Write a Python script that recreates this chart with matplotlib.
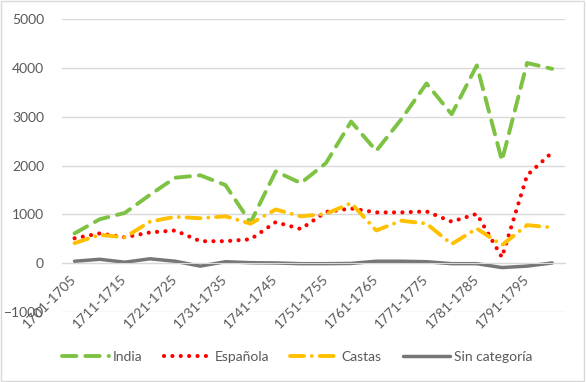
import numpy as np
import matplotlib
matplotlib.use("Agg")
import matplotlib.pyplot as plt
from matplotlib.patches import Rectangle

categories = [f"{1701 + 5*i}-{1705 + 5*i}" for i in range(20)]
india = [610, 900, 1030, 1400, 1750, 1800, 1600, 830, 1880, 1640,
         2050, 2900, 2300, 2950, 3680, 3050, 4050, 2100, 4100, 3980]
espanola = [510, 610, 530, 630, 670, 450, 450, 490, 840, 700,
            1050, 1120, 1040, 1040, 1060, 850, 1010, 120, 1800, 2270]
castas = [410, 580, 530, 850, 950, 920, 960, 810, 1100, 960,
          1010, 1230, 670, 870, 810, 390, 710, 370, 780, 730]
sin_cat = [40, 80, 20, 90, 40, -60, 30, 10, 5, -10,
           -10, -5, 40, 40, 30, -10, -10, -90, -60, 5]

series = [
    ("India", india, "#7DC242"),
    ("Española", espanola, "#FF0000"),
    ("Castas", castas, "#FFC000"),
    ("Sin categoría", sin_cat, "#767676"),
]

plt.rcParams['font.family'] = ['Lato', 'DejaVu Sans']
fig = plt.figure(figsize=(5.86, 3.82), dpi=100)
fig.patches.append(Rectangle((0.002, 0.003), 0.995, 0.994, transform=fig.transFigure,
                             fill=False, edgecolor="#D9D9D9", linewidth=1.0))
ax = fig.add_axes([0.1058, 0.1832, 0.858, 0.767])

x = np.arange(len(categories))
styles = {
    "India": dict(lw=2.8, dashes=(3.7, 2.3), dash_capstyle='round', solid_joinstyle='round'),
    "Española": dict(lw=3.0, dashes=(0.01, 2.0), dash_capstyle='round'),
    "Castas": dict(lw=2.8, dashes=(3.6, 2.0, 0.01, 2.0), dash_capstyle='round'),
    "Sin categoría": dict(lw=2.5, solid_capstyle='round', solid_joinstyle='round'),
}
handles = []
for name, vals, col in series:
    ln, = ax.plot(x, vals, color=col, label=name, **styles[name])
    handles.append(ln)

ax.set_xlim(-0.5, 19.5)
ax.set_ylim(-1000, 5000)
ax.set_yticks(range(-1000, 5001, 1000))
ax.yaxis.grid(True, color="#D9D9D9", linewidth=1.0)
ax.set_axisbelow(True)
for s in ["top", "right", "left"]:
    ax.spines[s].set_visible(False)
ax.spines["bottom"].set_position(("data", 0))
ax.spines["bottom"].set_color("#D9D9D9")
ax.set_xticks(x[::2])
ax.set_xticklabels(categories[::2], rotation=45, ha='right', va='center',
                   rotation_mode='anchor')
ax.tick_params(axis='x', length=0, pad=10, labelsize=10, labelcolor="#595959")
ax.tick_params(axis='y', length=0, pad=13, labelsize=10, labelcolor="#595959")

leg = fig.legend(handles=handles, loc='center', bbox_to_anchor=(0.507, 0.065), ncol=4,
                 frameon=False, fontsize=10, handlelength=3.4, columnspacing=1.5,
                 handletextpad=0.3)
for t in leg.get_texts():
    t.set_color("#595959")

fig.savefig("out.png", dpi=100)
